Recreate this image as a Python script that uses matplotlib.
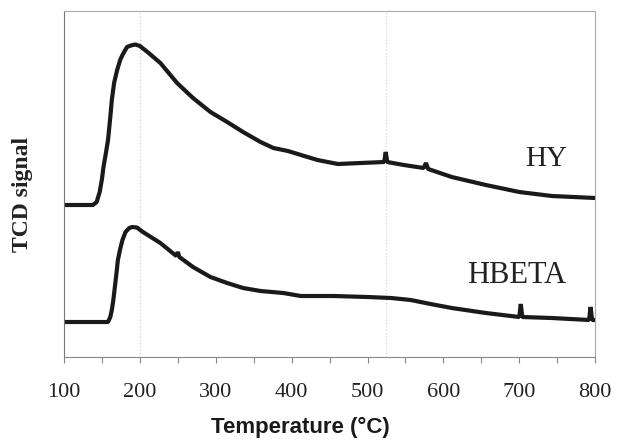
import matplotlib
matplotlib.use("Agg")
import matplotlib.pyplot as plt
from matplotlib.ticker import MultipleLocator, NullLocator

# temperature (C) and TCD signal (arbitrary units)
hy_temp = [100, 120, 138, 143, 147, 150, 152, 155, 158, 161, 163, 166, 170, 174,
           177, 180, 183, 188, 194, 200, 205, 210, 227, 249, 270, 293, 315,
           336, 359, 376, 395, 408, 434, 461, 491, 522, 524, 526, 548, 574,
           577, 580, 611, 656, 700, 743, 800]
hy_signal = [152, 152, 152, 155, 165, 178, 190, 203, 217, 240, 257, 274, 287, 297,
             302, 306, 310, 311.5, 312.5, 311, 308, 305, 294, 274, 259, 245, 235,
             225, 215, 209, 206, 203, 197, 193, 194, 195, 205, 195, 192, 189,
             194, 188, 180, 172, 165, 161, 159]

hb_temp = [100, 130, 158, 161, 163, 165, 167, 169, 171, 174, 177, 181, 186, 190,
           196, 204, 227, 248, 250, 252, 270, 293, 315, 336, 359, 389, 412,
           455, 500, 531, 557, 583, 611, 656, 700, 702, 704, 743, 792, 794,
           796, 800]
hb_signal = [35, 35, 35, 40, 47, 57, 70, 83, 97, 108, 117, 125, 129, 130,
             129.5, 125, 114, 101, 105, 100, 90, 80, 74, 69, 66, 64, 61,
             61, 60, 59, 57, 53, 49, 44, 40, 53, 40, 39, 37, 50, 37, 37]

labels = ["HY", "HBETA"]

fig = plt.figure(figsize=(6.18, 4.42), dpi=100)
ax = fig.add_axes([0.1036, 0.1923, 0.8594, 0.7828])

ax.plot(hy_temp, hy_signal, color="#1a1a1a", lw=3.0, solid_joinstyle="bevel")
ax.plot(hb_temp, hb_signal, color="#1a1a1a", lw=3.0, solid_joinstyle="bevel")

# faint vertical guide lines seen in the scan
for t in [200, 525]:
    ax.axvline(t, color="#cccccc", lw=0.8, ls=(0, (1, 2)), zorder=0)

ax.text(735, 198, labels[0], fontsize=21, family="Liberation Serif",
        ha="center", va="center", color="#222222")
ax.text(696, 82, labels[1], fontsize=22, family="Liberation Serif",
        ha="center", va="center", color="#222222")

ax.set_xlim(100, 800)
ax.set_ylim(0, 346)
ax.xaxis.set_major_locator(MultipleLocator(100))
ax.xaxis.set_minor_locator(MultipleLocator(50))
ax.yaxis.set_major_locator(NullLocator())
ax.tick_params(axis="x", which="both", direction="out", length=4, width=0.8,
               color="#888888")
ax.tick_params(axis="x", which="major", pad=15, labelsize=16, labelcolor="#222222")
for lab in ax.get_xticklabels():
    lab.set_family("Liberation Serif")

for side in ["top", "right"]:
    ax.spines[side].set_color("#aaaaaa")
    ax.spines[side].set_linestyle((0, (1, 1)))
    ax.spines[side].set_linewidth(0.8)
ax.spines["left"].set_color("#777777")
ax.spines["left"].set_linewidth(0.8)
ax.spines["bottom"].set_color("#888888")
ax.spines["bottom"].set_linewidth(0.8)

fig.text(0.486, 0.032, "Temperature (\u00b0C)", fontsize=16, fontweight="bold",
         family="Liberation Sans", ha="center", va="center", color="#1a1a1a")
fig.text(0.036, 0.56, "TCD signal", fontsize=17, fontweight="bold",
         family="Liberation Serif", rotation=90, ha="center", va="center",
         color="#222222")

fig.savefig("out.png", dpi=100)
